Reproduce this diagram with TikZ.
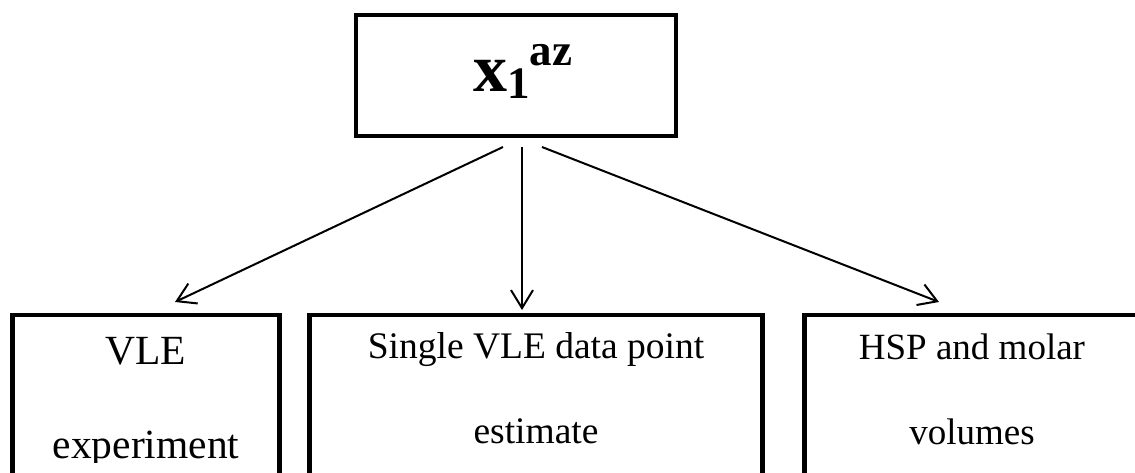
\documentclass[tikz,border=0pt]{standalone}
\usepackage{fontspec}
\setmainfont{Liberation Serif}
\usetikzlibrary{arrows.meta}

\tikzset{
  framebox/.style={draw=black, line width=4.3pt, rectangle, inner sep=0pt},
  linktip/.style={-{Straight Barb[length=18pt,width=22pt]}, line width=2pt},
  caption/.style={anchor=base, inner sep=0pt},
}

\begin{document}
\begin{tikzpicture}[x=1pt, y=-1pt]
  \clip (0,0) rectangle (1135,472);

  % top box with the azeotrope composition
  \node[framebox, minimum width=320pt, minimum height=121pt] (top) at (516,75.5) {};
  \node[anchor=base west, inner sep=0pt] (topl) at (473,91.7)
    {\fontsize{68}{68}\selectfont\bfseries x\raisebox{-6.6pt}{\fontsize{45}{45}\selectfont 1}\raisebox{26.7pt}{\fontsize{45}{45}\selectfont az}};

  % three method boxes, running past the lower edge
  \node[framebox, minimum width=267pt, minimum height=300pt, anchor=north] (vle) at (146,313) {};
  \node[framebox, minimum width=453pt, minimum height=300pt, anchor=north] (single) at (536,313) {};
  \node[framebox, minimum width=380pt, minimum height=300pt, anchor=north] (hsp) at (994.5,313) {};

  \begin{scope}
    \clip (0,0) rectangle (1135,462.5);
    \node[caption, font=\fontsize{41.5}{41.5}\selectfont] (vle1) at (146,364) {VLE};
    \node[caption, font=\fontsize{41.5}{41.5}\selectfont] (vle2) at (146,458) {experiment};
    \node[caption, font=\fontsize{37.5}{37.5}\selectfont] (sg1) at (536,358.5) {Single VLE data point};
    \node[caption, font=\fontsize{37.5}{37.5}\selectfont] (sg2) at (536,443) {estimate};
    \node[caption, font=\fontsize{37}{37}\selectfont] (hs1) at (972,359) {HSP and molar};
    \node[caption, font=\fontsize{37}{37}\selectfont] (hs2) at (972,444) {volumes};
  \end{scope}

  % arrow ends
  \coordinate (s1) at (503,147);
  \coordinate (s2) at (522,147);
  \coordinate (s3) at (542,147);
  \coordinate (e1) at (175,302);
  \coordinate (e2) at (522,310);
  \coordinate (e3) at (939,302);

  \draw[linktip] (s1) -- (e1);
  \draw[linktip] (s2) -- (e2);
  \draw[linktip] (s3) -- (e3);
\end{tikzpicture}
\end{document}
